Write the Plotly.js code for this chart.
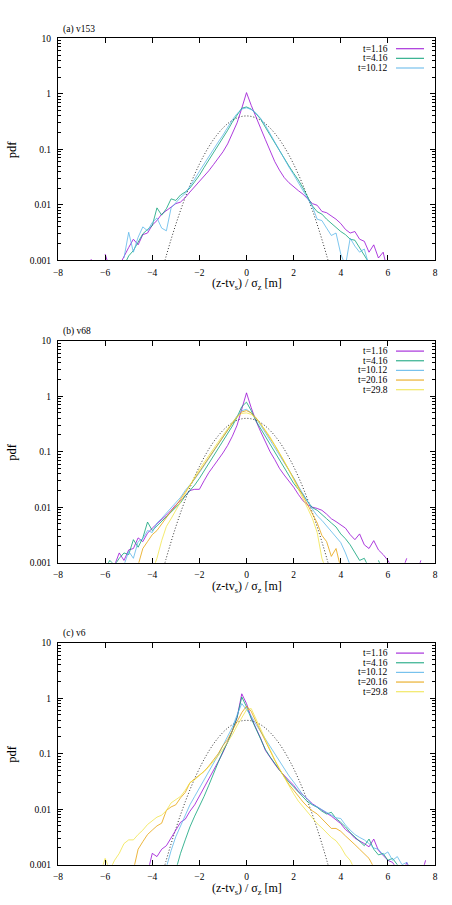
<!DOCTYPE html>
<html>
<head>
<meta charset="utf-8">
<script src="https://cdn.plot.ly/plotly-3.0.1.min.js"></script>
<style>body{margin:0;background:#fff}</style>
</head>
<body>
<div id="chart" style="width:452px;height:905px"></div>
<script>
const _ = null;

// bin centres (z - t v_s) / sigma_z
const xs = [-6.6,-6.4,-6.2,-6.0,-5.8,-5.6,-5.4,-5.2,-5.0,-4.8,-4.6,-4.4,-4.2,-4.0,-3.8,-3.6,-3.4,-3.2,-3.0,-2.8,-2.6,-2.4,-2.2,-2.0,-1.8,-1.6,-1.4,-1.2,-1.0,-0.8,-0.6,-0.4,-0.2,
  0,
  0.2,0.4,0.6,0.8,1.0,1.2,1.4,1.6,1.8,2.0,2.2,2.4,2.6,2.8,3.0,3.2,3.4,3.6,3.8,4.0,4.2,4.4,4.6,4.8,5.0,5.2,5.4,5.6,5.8,6.0,6.2,6.4,6.6,6.8,7.0,7.2,7.4,7.6];

// reference normal curve (dotted)
const gauss = [_,_,_,_,_,_,_,_,_,_,_,_,_,_,_,0.00061,0.00123,0.00238,0.00443,0.00792,0.0136,0.0224,0.0355,0.054,0.079,0.111,0.150,0.194,0.242,0.290,0.333,0.368,0.391,
  0.399,
  0.391,0.368,0.333,0.290,0.242,0.194,0.150,0.111,0.079,0.054,0.0355,0.0224,0.0136,0.00792,0.00443,0.00238,0.00123,0.00061,_,_,_,_,_,_,_,_,_,_,_,_,_,_,_,_,_,_,_,_];

const labels = ['t=1.16', 't=4.16', 't=10.12', 't=20.16', 't=29.8'];
const colors = ['#9400d3', '#009e73', '#56b4e9', '#e69f00', '#f0e442'];
const panelNames = ['(a) v153', '(b) v68', '(c) v6'];

// (a) v153
const a_t1 = [0.00105,0.0007,_,0.0013,0.0007,_,0.0008,0.0012,0.0017,0.0024,0.0019,0.0029,0.0031,0.0043,0.0052,0.0068,0.0078,0.0092,0.0105,0.0112,0.0135,0.017,0.021,0.026,0.032,0.041,0.053,0.068,0.09,0.125,0.19,0.3,0.55,
  1.05,
  0.62,0.37,0.24,0.15,0.095,0.06,0.042,0.031,0.025,0.021,0.018,0.0155,0.0125,0.0105,0.0098,0.0076,0.0072,0.0064,0.0055,0.0046,0.0036,0.0031,0.0033,0.0024,0.0022,0.0014,0.0019,0.0011,0.0014,0.0006,_,_,_,_,_,_,_,_];
const a_t4 = [_,_,_,_,_,_,_,0.0008,0.0012,0.0015,0.0021,0.003,0.0036,0.0042,0.0088,0.0065,0.0085,0.0128,0.012,0.015,0.017,0.02,0.026,0.034,0.047,0.064,0.085,0.115,0.16,0.22,0.31,0.42,0.55,
  0.58,
  0.53,0.44,0.35,0.25,0.18,0.13,0.093,0.068,0.05,0.037,0.028,0.02,0.014,0.0095,0.0075,0.0068,0.0055,0.0046,0.004,0.0033,0.0029,0.0024,0.0023,0.0017,0.0012,0.0009,_,_,_,_,_,_,_,_,_,_,_,_];
const a_t10 = [_,_,_,_,_,_,_,0.0011,0.0032,0.0014,0.0026,0.004,0.0034,0.0048,0.0058,0.0038,0.0034,0.0088,0.011,0.0135,0.016,0.021,0.029,0.04,0.055,0.075,0.1,0.135,0.18,0.25,0.34,0.44,0.53,
  0.56,
  0.52,0.45,0.36,0.27,0.19,0.135,0.095,0.068,0.048,0.035,0.025,0.018,0.013,0.0092,0.0055,0.0052,0.0038,0.0028,0.0031,0.0013,0.0008,0.0025,0.0018,0.0014,0.0016,0.0008,_,_,_,_,_,_,_,_,_,_,_,_];

// (b) v68
const b_t1 = [_,_,_,_,_,0.0009,0.0015,0.0011,0.0017,0.0018,0.0028,0.0024,0.0034,0.0042,0.005,0.006,0.0072,0.0088,0.011,0.013,0.016,0.02,0.021,0.021,0.03,0.042,0.055,0.072,0.095,0.13,0.19,0.3,0.58,
  1.15,
  0.62,0.36,0.23,0.15,0.1,0.072,0.05,0.038,0.03,0.023,0.017,0.013,0.011,0.01,0.0095,0.0088,0.0075,0.0062,0.0055,0.0048,0.0042,0.0032,0.0026,0.0033,0.0021,0.0018,0.0025,0.0017,0.0014,0.0011,0.0008,_,0.0007,0.0012,_,0.0006,0.0011,_];
const b_t4 = [_,_,_,0.0008,0.0011,0.0009,0.0012,0.0015,0.0014,0.0026,0.0019,0.0028,0.0054,0.0038,0.0046,0.0058,0.0068,0.0085,0.01,0.012,0.016,0.02,0.025,0.033,0.045,0.06,0.08,0.11,0.15,0.21,0.29,0.42,0.65,
  0.78,
  0.55,0.36,0.26,0.18,0.13,0.095,0.068,0.05,0.036,0.027,0.021,0.017,0.0125,0.0098,0.0088,0.0075,0.0062,0.0052,0.0044,0.0033,0.0027,0.0021,0.0015,0.0011,0.0012,0.0008,_,0.0011,0.0007,_,_,_,_,_,_,_,_,_];
const b_t10 = [_,_,_,_,_,_,_,0.0009,0.0016,0.0012,0.0024,0.0027,0.0038,0.0035,0.0052,0.0063,0.0078,0.0095,0.012,0.015,0.02,0.025,0.032,0.042,0.056,0.075,0.1,0.135,0.18,0.24,0.33,0.44,0.55,
  0.58,
  0.5,0.4,0.3,0.22,0.165,0.12,0.088,0.064,0.046,0.034,0.024,0.017,0.0125,0.0092,0.007,0.0058,0.0046,0.0037,0.003,0.0023,0.0015,0.0009,_,_,_,_,_,_,_,_,_,_,_,_,_,_,_,_];
const b_t20 = [_,_,_,_,_,_,_,_,_,_,0.0009,0.0018,0.0024,0.0032,0.0038,0.005,0.0065,0.0085,0.0105,0.014,0.019,0.025,0.034,0.045,0.06,0.08,0.105,0.14,0.19,0.25,0.33,0.43,0.52,
  0.55,
  0.5,0.41,0.32,0.24,0.18,0.13,0.093,0.067,0.047,0.033,0.023,0.016,0.011,0.0075,0.0052,0.0031,0.0024,0.0013,0.0018,0.0008,_,_,_,_,_,_,_,_,_,_,_,_,_,_,_,_,_,_];
const b_t30 = [_,_,_,_,_,_,_,_,_,_,_,_,_,0.0007,0.0012,0.0025,0.0045,0.0062,0.0088,0.013,0.018,0.025,0.035,0.048,0.065,0.086,0.113,0.15,0.2,0.26,0.34,0.42,0.49,
  0.5,
  0.47,0.4,0.32,0.245,0.185,0.135,0.096,0.068,0.047,0.032,0.021,0.014,0.0095,0.0062,0.0035,0.0012,0.0007,_,_,_,_,_,_,_,_,_,_,_,_,_,_,_,_,_,_,_,_,_];

// (c) v6
const c_t1 = [_,_,_,_,_,_,_,_,_,_,_,_,0.0007,0.0016,0.0014,0.0019,0.0022,0.0031,0.0042,0.0058,0.0066,0.0092,0.012,0.017,0.024,0.034,0.05,0.072,0.105,0.16,0.26,0.45,1.2,
  0.8,
  0.45,0.29,0.19,0.115,0.085,0.065,0.05,0.04,0.033,0.027,0.021,0.018,0.015,0.0125,0.011,0.0095,0.0085,0.0075,0.0063,0.0055,0.0043,0.0037,0.003,0.0027,0.0024,0.0021,0.0029,0.0018,0.0015,0.0012,0.0011,0.0008,0.0006,0.0011,0.0007,_,0.0006,0.0012];
const c_t4 = [_,_,_,_,_,_,_,_,_,_,_,_,_,_,_,_,_,_,0.0008,0.0016,0.0028,0.0048,0.0075,0.011,0.017,0.027,0.045,0.07,0.11,0.16,0.26,0.45,1.05,
  0.7,
  0.43,0.28,0.18,0.12,0.088,0.066,0.05,0.039,0.031,0.025,0.02,0.016,0.0135,0.012,0.0108,0.0092,0.0082,0.0088,0.0068,0.0058,0.0048,0.0038,0.0032,0.0027,0.0022,0.0029,0.0019,0.0015,0.0016,0.0012,0.0013,0.001,0.0008,_,_,_,_,_];
const c_t10 = [_,_,_,_,_,_,_,_,_,_,_,_,_,_,_,_,0.0009,0.0018,0.0032,0.005,0.0082,0.012,0.017,0.024,0.033,0.047,0.068,0.095,0.14,0.2,0.3,0.5,0.8,
  0.62,
  0.48,0.34,0.25,0.18,0.13,0.095,0.07,0.052,0.04,0.031,0.024,0.018,0.015,0.012,0.011,0.0098,0.0088,0.0078,0.007,0.0068,0.0052,0.0042,0.0035,0.0031,0.0028,0.0024,0.002,0.0019,0.0015,0.0017,0.0012,0.0014,0.001,0.0011,0.0008,0.0009,_,_];
const c_t20 = [_,_,_,_,_,_,_,_,_,0.0008,0.0019,0.0026,0.0035,0.0042,0.005,0.0056,0.0095,0.011,0.012,0.016,0.02,0.03,0.035,0.04,0.048,0.06,0.078,0.1,0.14,0.18,0.26,0.38,0.55,
  0.72,
  0.58,0.38,0.25,0.165,0.11,0.076,0.053,0.038,0.028,0.022,0.017,0.0135,0.011,0.0093,0.0082,0.0068,0.0055,0.0045,0.0045,0.004,0.0033,0.0027,0.0023,0.0019,0.0016,0.0013,0.0009,_,_,_,_,_,_,_,_,_,_,_];
const c_t30 = [_,_,0.0007,0.0013,0.0008,0.0012,0.0016,0.0024,0.0028,0.0028,0.0035,0.0042,0.0053,0.0062,0.0072,0.0078,0.0095,0.013,0.015,0.017,0.022,0.03,0.034,0.04,0.048,0.058,0.072,0.092,0.12,0.16,0.22,0.32,0.45,
  0.62,
  0.65,0.42,0.27,0.175,0.115,0.078,0.053,0.037,0.026,0.019,0.014,0.011,0.0088,0.007,0.0055,0.0046,0.0038,0.0031,0.0027,0.0021,0.0015,0.0012,0.0008,_,_,_,_,_,_,_,_,_,_,_,_,_,_,_];

const panels = [
  [a_t1, a_t4, a_t10],
  [b_t1, b_t4, b_t10, b_t20, b_t30],
  [c_t1, c_t4, c_t10, c_t20, c_t30]
];

const xTicks = [-8, -6, -4, -2, 0, 2, 4, 6, 8];
const yTicks = [0.001, 0.01, 0.1, 1, 10];
const yTickText = ['0.001', '0.01', '0.1', '1', '10'];

// page geometry (pixels)
const W = 452, H = 905, L = 58, R = 17;
const tops = [38.3, 340.7, 642.7];
const plotH = 222;
const px = x => (x - L) / (W - L - R);
const py = y => 1 - y / H;

const serif = '"Liberation Serif", "Times New Roman", serif';
const tickFont = {family: serif, size: 9.5, color: '#000'};

let minorVals = [];
[0.001, 0.01, 0.1, 1].forEach(d => {
  for (let k = 2; k <= 9; k++) minorVals.push(d * k);
});

const data = [];
const layout = {
  width: W, height: H,
  margin: {l: L, r: R, t: 0, b: 0},
  paper_bgcolor: '#fff', plot_bgcolor: '#fff',
  showlegend: false,
  font: {family: serif, color: '#000'},
  annotations: [],
  shapes: []
};

panels.forEach((series, p) => {
  const s = p === 0 ? '' : String(p + 1);
  const top = tops[p];

  data.push({
    x: xs, y: gauss, xaxis: 'x' + s, yaxis: 'y' + s,
    mode: 'lines', line: {color: '#333', width: 1, dash: '1px,2px', shape: 'spline'},
    hoverinfo: 'skip'
  });

  series.forEach((ys, k) => {
    data.push({
      x: xs, y: ys, xaxis: 'x' + s, yaxis: 'y' + s,
      mode: 'lines', name: labels[k],
      line: {color: colors[k], width: 0.9},
      opacity: 0.85,
      hoverinfo: 'skip'
    });

    // gnuplot style key: text on the left, sample line on the right
    const ry = top + 10.4 + 9.65 * k;
    layout.annotations.push({
      xref: 'paper', yref: 'paper', x: px(390), y: py(ry),
      xanchor: 'right', yanchor: 'middle', showarrow: false,
      text: labels[k], font: {family: serif, size: 9.5, color: '#000'}
    });
    layout.shapes.push({
      type: 'line', xref: 'paper', yref: 'paper',
      x0: px(396), x1: px(424), y0: py(ry), y1: py(ry),
      line: {color: colors[k], width: 1.2}, opacity: 0.8
    });
  });

  layout['xaxis' + s] = {
    domain: [0, 1], anchor: 'y' + s, range: [-8, 8],
    tickmode: 'array', tickvals: xTicks,
    ticks: 'inside', ticklen: 5, tickcolor: '#000',
    showline: true, mirror: 'ticks', linecolor: '#000', linewidth: 1,
    showgrid: false, zeroline: false, tickfont: tickFont, ticklabelstandoff: 3
  };
  layout['yaxis' + s] = {
    domain: [py(top + plotH), py(top)], anchor: 'x' + s,
    type: 'log', range: [-3, 1],
    tickmode: 'array', tickvals: yTicks, ticktext: yTickText,
    ticks: 'inside', ticklen: 5, tickcolor: '#000',
    minor: {tickmode: 'array', tickvals: minorVals, ticks: 'inside', ticklen: 3, tickcolor: '#000', showgrid: false},
    showline: true, mirror: 'ticks', linecolor: '#000', linewidth: 1,
    showgrid: false, zeroline: false, tickfont: tickFont, ticklabelstandoff: 4
  };

  layout.annotations.push({
    xref: 'paper', yref: 'paper', x: px(61), y: py(top - 9),
    xanchor: 'left', yanchor: 'middle', showarrow: false,
    text: panelNames[p], font: {family: serif, size: 9.5, color: '#000'}
  });
  layout.annotations.push({
    xref: 'paper', yref: 'paper', x: px(12), y: py(top + plotH / 2),
    xanchor: 'center', yanchor: 'middle', showarrow: false, textangle: -90,
    text: 'pdf', font: {family: serif, size: 12.5, color: '#000'}
  });
  layout.annotations.push({
    xref: 'paper', yref: 'paper', x: px(247), y: py(top + plotH + 24),
    xanchor: 'center', yanchor: 'middle', showarrow: false,
    text: '(z-tv<sub>s</sub>) / σ<sub>z</sub> [m]', font: {family: serif, size: 12, color: '#000'}
  });
});

Plotly.newPlot('chart', data, layout, {staticPlot: true, displayModeBar: false});
</script>
</body>
</html>
